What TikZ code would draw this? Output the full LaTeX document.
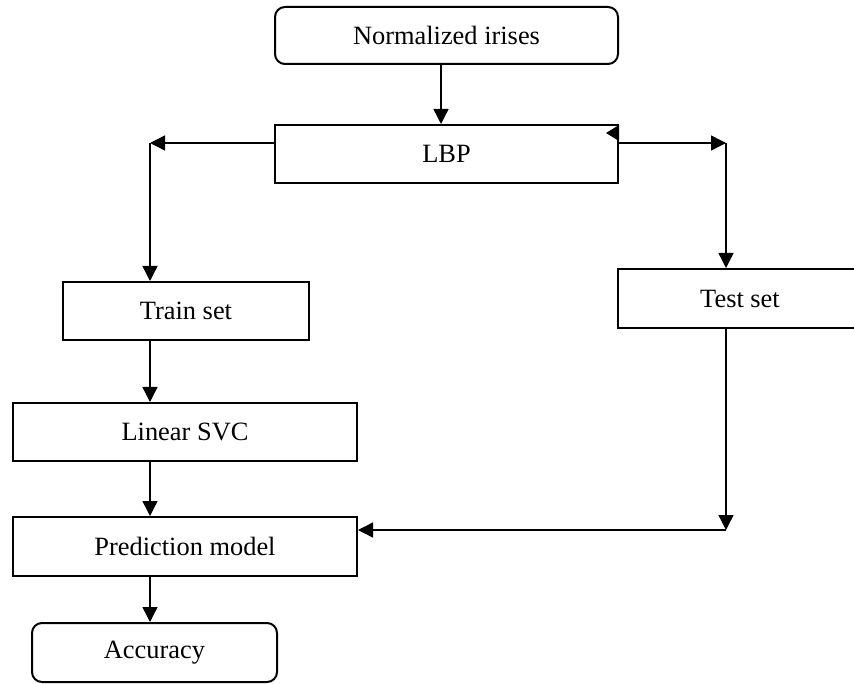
\documentclass[tikz,border=0pt]{standalone}
\usepackage{fontspec}
\setmainfont{Liberation Serif}
\usetikzlibrary{arrows.meta,calc}
\begin{document}
\begin{tikzpicture}[x=1pt,y=-1pt,
  box/.style={draw=black,line width=2pt,rectangle,inner sep=0pt,
    font=\fontsize{26.4}{30}\selectfont},
  rbox/.style={box,rounded corners=10pt},
  arr/.style={line width=1.4pt,-{Triangle[length=15pt,width=15pt]}},
  conn/.style={line width=1.4pt}]
\useasboundingbox (0,0) rectangle (854,684);
\node[rbox,minimum width=343pt,minimum height=57pt] (norm) at (446.5,35.5) {Normalized irises};
\node[box,minimum width=343pt,minimum height=58pt] (lbp) at (446.5,154) {LBP};
\node[box,minimum width=246pt,minimum height=58pt] (train) at (186,311) {Train set};
\node[box,minimum width=244pt,minimum height=59pt] (test) at (740,298.5) {Test set};
\node[box,minimum width=344pt,minimum height=58pt] (svc) at (185,432) {Linear SVC};
\node[box,minimum width=344pt,minimum height=59pt] (pred) at (185,546.5) {Prediction model};
\node[rbox,minimum width=245pt,minimum height=59pt] (acc) at (154.5,652.5) {Accuracy};
\coordinate (ax) at (441,0);
\coordinate (tl) at (150,143);
\coordinate (tr) at (726,143);
\coordinate (br) at (726,530);
\draw[arr] (norm.south -| ax) -- (lbp.north -| ax);
\draw[arr] (lbp.west |- tl) -- (tl);
\draw[arr] (tl) -- (train.north -| tl);
\draw[arr] (lbp.east |- tr) -- (tr);
\draw[arr] (tr) -- (test.north -| tr);
\fill ($(lbp.north east)+(0,1)$) -- ++(0,16) -- ++(-13,-8) -- cycle;
\draw[arr] (train.south -| tl) -- (svc.north -| tl);
\draw[arr] (svc.south -| tl) -- (pred.north -| tl);
\draw[arr] (pred.south -| tl) -- (acc.north -| tl);
\draw[arr] (test.south -| br) -- (br);
\draw[arr] (br) -- (pred.east |- br);
\end{tikzpicture}
\end{document}
